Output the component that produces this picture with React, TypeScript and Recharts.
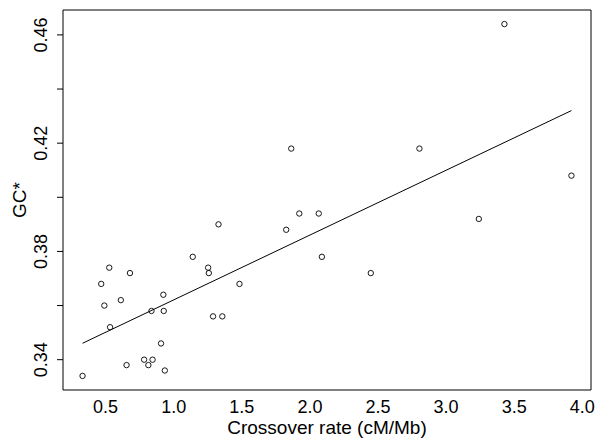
import React from 'react';
import { ScatterChart, Scatter, XAxis, YAxis, ReferenceArea, Label } from 'recharts';

const crossoverRate = [
    0.331, 0.468, 0.491, 0.527, 0.533, 0.612, 0.654, 0.679, 0.783, 0.814, 0.837,
    0.845, 0.907, 0.924, 0.927, 0.935, 1.14, 1.253, 1.258, 1.289, 1.329, 1.357,
    1.483, 1.826, 1.863, 1.922, 2.065, 2.088, 2.447, 2.804, 3.24, 3.428, 3.92,
];

const gcStar = [
    0.334, 0.368, 0.36, 0.374, 0.352, 0.362, 0.338, 0.372, 0.34, 0.338, 0.358,
    0.34, 0.346, 0.364, 0.358, 0.336, 0.378, 0.374, 0.372, 0.356, 0.39, 0.356,
    0.368, 0.388, 0.418, 0.394, 0.394, 0.378, 0.372, 0.418, 0.392, 0.464, 0.408,
];

const xTicks = [0.5, 1.0, 1.5, 2.0, 2.5, 3.0, 3.5, 4.0];
const yTicks = [0.34, 0.36, 0.38, 0.4, 0.42, 0.44, 0.46];
const yTickLabels = ['0.34', '0.38', '0.42', '0.46'];

const points = crossoverRate.map((x, i) => ({ x, y: gcStar[i] }));

// least squares fit, drawn over the range of the data
const n = points.length;
const meanX = crossoverRate.reduce((a, b) => a + b, 0) / n;
const meanY = gcStar.reduce((a, b) => a + b, 0) / n;
const sxy = points.reduce((s, p) => s + (p.x - meanX) * (p.y - meanY), 0);
const sxx = points.reduce((s, p) => s + (p.x - meanX) ** 2, 0);
const slope = sxy / sxx;
const intercept = meanY - slope * meanX;
const xMin = Math.min(...crossoverRate);
const xMax = Math.max(...crossoverRate);
const yMin = Math.min(...gcStar);
const yMax = Math.max(...gcStar);
const fitLine = [
    { x: xMin, y: intercept + slope * xMin },
    { x: xMax, y: intercept + slope * xMax },
];

// R style 4% padding
const xPad = (xMax - xMin) * 0.04;
const yPad = (yMax - yMin) * 0.04;
const xDomain = [xMin - xPad, xMax + xPad];
const yDomain = [yMin - yPad, yMax + yPad];

const font = '"Liberation Sans", Arial, Helvetica, sans-serif';

const XTick = (props: any) => {
    const { x, y, payload } = props;
    return (
        <text x={x} y={y + 23} textAnchor="middle" fontFamily={font} fontSize={18} fill="#000">
            {payload.value.toFixed(1)}
        </text>
    );
};

const YTick = (props: any) => {
    const { x, y, payload } = props;
    const label = payload.value.toFixed(2);
    if (!yTickLabels.includes(label)) return <g />;
    const tx = x - 13.5;
    return (
        <text
            x={tx}
            y={y}
            transform={`rotate(-90, ${tx}, ${y})`}
            textAnchor="middle"
            dominantBaseline="central"
            fontFamily={font}
            fontSize={18}
            fill="#000"
        >
            {label}
        </text>
    );
};

const Ring = (props: any) => (
    <circle cx={props.cx} cy={props.cy} r={2.7} fill="none" stroke="#000" strokeWidth={0.9} />
);

const App: React.FC = () => {
    return (
        <div style={{ position: 'absolute', left: 0, top: 0, width: 600, height: 441, background: '#fff' }}>
            <ScatterChart width={600} height={441} margin={{ top: 10, right: 9, bottom: 0, left: 0 }}>
                <XAxis
                    type="number"
                    dataKey="x"
                    domain={xDomain}
                    ticks={xTicks}
                    tick={<XTick />}
                    tickLine={false}
                    axisLine={false}
                    tickSize={0}
                    tickMargin={0}
                    height={51}
                    allowDataOverflow
                >
                    <Label
                        content={(p: any) => {
                            const vb = p.viewBox;
                            return (
                                <text
                                    x={vb.x + vb.width / 2}
                                    y={vb.y + 43.5}
                                    textAnchor="middle"
                                    fontFamily={font}
                                    fontSize={19}
                                    fill="#000"
                                >
                                    Crossover rate (cM/Mb)
                                </text>
                            );
                        }}
                    />
                </XAxis>
                <YAxis
                    type="number"
                    dataKey="y"
                    domain={yDomain}
                    ticks={yTicks}
                    tick={<YTick />}
                    tickLine={{ stroke: '#000', strokeWidth: 1 }}
                    tickSize={6}
                    axisLine={false}
                    width={63}
                    allowDataOverflow
                >
                    <Label
                        content={(p: any) => {
                            const vb = p.viewBox;
                            const cx = vb.x + 19;
                            const cy = vb.y + vb.height / 2;
                            return (
                                <text
                                    x={cx}
                                    y={cy}
                                    transform={`rotate(-90, ${cx}, ${cy})`}
                                    textAnchor="middle"
                                    dominantBaseline="central"
                                    fontFamily={font}
                                    fontSize={19}
                                    fill="#000"
                                >
                                    GC*
                                </text>
                            );
                        }}
                    />
                </YAxis>
                <ReferenceArea
                    x1={xDomain[0]}
                    x2={xDomain[1]}
                    y1={yDomain[0]}
                    y2={yDomain[1]}
                    fill="none"
                    fillOpacity={0}
                    stroke="#000"
                    strokeWidth={1}
                    strokeOpacity={1}
                />
                <Scatter data={points} shape={<Ring />} isAnimationActive={false} />
                <Scatter
                    data={fitLine}
                    line={{ stroke: '#000', strokeWidth: 1 }}
                    shape={() => <g />}
                    isAnimationActive={false}
                />
            </ScatterChart>
        </div>
    );
};

export default App;
